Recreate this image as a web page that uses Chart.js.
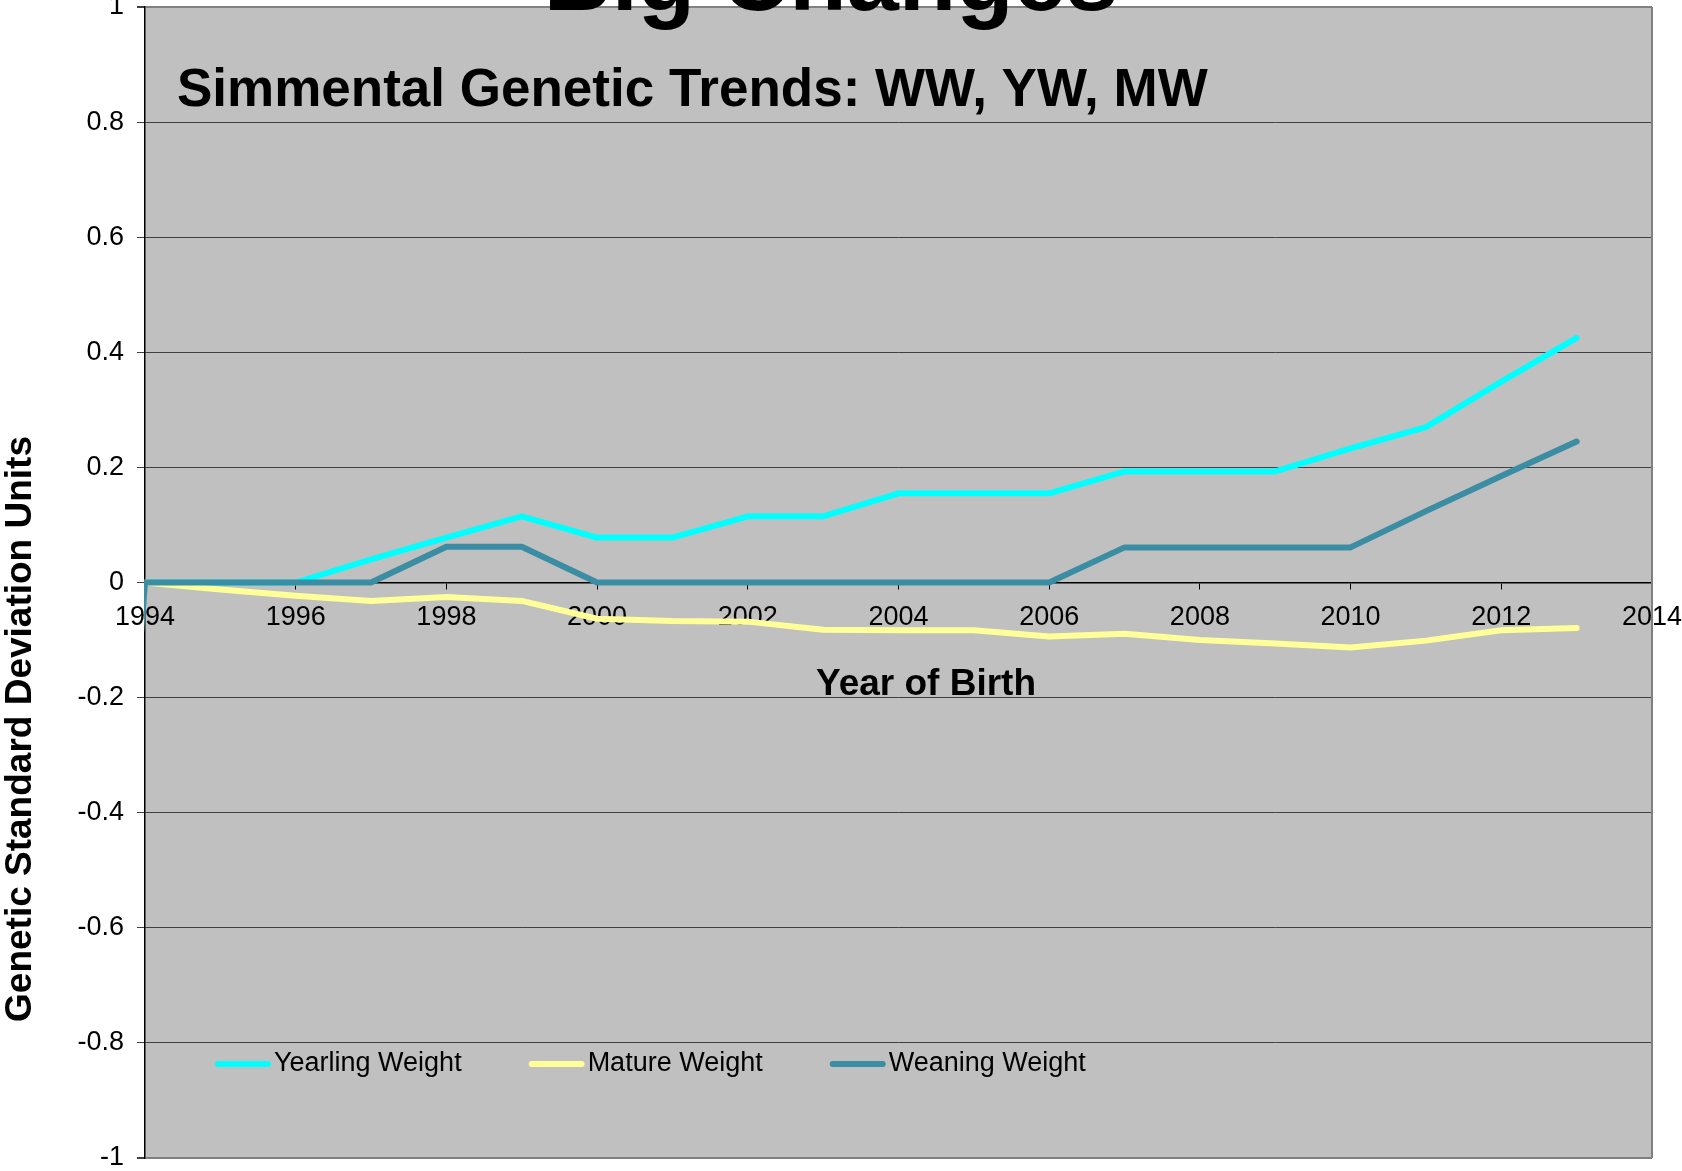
<!DOCTYPE html>
<html>
<head>
<meta charset="utf-8">
<title>Simmental Genetic Trends</title>
<script src="https://cdn.jsdelivr.net/npm/chart.js@4.4.1/dist/chart.umd.min.js"></script>
<style>
  html, body { margin: 0; padding: 0; background: #ffffff; }
  #wrap { width: 1682px; height: 1171px; }
</style>
</head>
<body>
<div id="wrap"><canvas id="trendChart" width="1682" height="1171"></canvas></div>
<script>
// year of birth
const years = [1994, 1995, 1996, 1997, 1998, 1999, 2000, 2001, 2002, 2003,
               2004, 2005, 2006, 2007, 2008, 2009, 2010, 2011, 2012, 2013];

// genetic SD units
const yearlingWeight = [0, 0, 0, 0.04, 0.078, 0.115, 0.078, 0.078, 0.115, 0.115,
                        0.155, 0.155, 0.155, 0.193, 0.193, 0.193, 0.233, 0.27, 0.349, 0.425];
const matureWeight = [0, -0.012, -0.023, -0.032, -0.025, -0.032, -0.063, -0.067, -0.068, -0.082,
                      -0.083, -0.083, -0.094, -0.089, -0.1, -0.106, -0.113, -0.101, -0.083, -0.079];
const weaningWeight = [0, 0, 0, 0, 0.062, 0.062, 0, 0, 0, 0,
                       0, 0, 0, 0.061, 0.061, 0.061, 0.061, 0.124, 0.185, 0.245];
// the weaning line comes in from off the left edge
const weaningLeadYear = 1993;
const weaningLeadValue = -1.65;

const xTicks = [1994, 1996, 1998, 2000, 2002, 2004, 2006, 2008, 2010, 2012, 2014];
const yTicks = [1, 0.8, 0.6, 0.4, 0.2, 0, -0.2, -0.4, -0.6, -0.8, -1];
const yTickLabels = ["1", "0.8", "0.6", "0.4", "0.2", "0", "-0.2", "-0.4", "-0.6", "-0.8", "-1"];

const seriesNames = ["Yearling Weight", "Mature Weight", "Weaning Weight"];

const FONT = '"Liberation Sans", Arial, Helvetica, sans-serif';
Chart.defaults.font.family = FONT;

function toPoints(xs, ys) {
  return xs.map((x, i) => ({ x: x, y: ys[i] }));
}

const weaningPoints = [{ x: weaningLeadYear, y: weaningLeadValue }].concat(toPoints(years, weaningWeight));

// plot background, borders, titles and legend
const decorations = {
  id: "decorations",
  beforeDraw(chart) {
    const a = chart.chartArea;
    const ctx = chart.ctx;
    ctx.save();
    ctx.fillStyle = "#ffffff";
    ctx.fillRect(0, 0, chart.width, chart.height);
    ctx.fillStyle = "#c0c0c0";
    ctx.fillRect(a.left, a.top, a.right - a.left, a.bottom - a.top);
    ctx.restore();
  },
  afterDraw(chart) {
    const a = chart.chartArea;
    const ctx = chart.ctx;
    ctx.save();

    // right border
    ctx.strokeStyle = "#808080";
    ctx.lineWidth = 2;
    ctx.beginPath();
    ctx.moveTo(a.right, a.top);
    ctx.lineTo(a.right, a.bottom);
    ctx.stroke();

    ctx.fillStyle = "#000000";

    // big heading, cut off at the top
    ctx.font = "bold 94px " + FONT;
    ctx.textAlign = "center";
    ctx.textBaseline = "alphabetic";
    ctx.fillText("Big Changes", 831, 10);

    // chart title inside the plot
    ctx.font = "bold 53px " + FONT;
    ctx.textAlign = "left";
    ctx.fillText("Simmental Genetic Trends: WW, YW, MW", 177, 106);

    // x axis title
    ctx.font = "bold 37px " + FONT;
    ctx.textAlign = "center";
    ctx.fillText("Year of Birth", 926, 695);

    // y axis title
    ctx.save();
    ctx.translate(21, 729);
    ctx.rotate(-Math.PI / 2);
    ctx.textBaseline = "middle";
    ctx.fillText("Genetic Standard Deviation Units", 0, 0);
    ctx.restore();

    // legend
    ctx.font = "27px " + FONT;
    ctx.textAlign = "left";
    ctx.textBaseline = "middle";
    let x = 215;
    const y = 1064;
    chart.data.datasets.forEach((ds) => {
      ctx.strokeStyle = ds.borderColor;
      ctx.lineWidth = 6;
      ctx.lineCap = "round";
      ctx.beginPath();
      ctx.moveTo(x + 3, y);
      ctx.lineTo(x + 53, y);
      ctx.stroke();
      ctx.fillStyle = "#000000";
      ctx.fillText(ds.label, x + 59, y);
      x += 59 + ctx.measureText(ds.label).width + 67;
    });

    ctx.restore();
  }
};

const ctx = document.getElementById("trendChart").getContext("2d");
const chart = new Chart(ctx, {
  type: "line",
  data: {
    datasets: [
      {
        label: seriesNames[0],
        data: toPoints(years, yearlingWeight),
        borderColor: "#00ffff",
        order: 2
      },
      {
        label: seriesNames[1],
        data: toPoints(years, matureWeight),
        borderColor: "#ffff99",
        order: 1
      },
      {
        label: seriesNames[2],
        data: weaningPoints,
        borderColor: "#3a8da2",
        order: 0,
        clip: 1
      }
    ]
  },
  options: {
    responsive: false,
    animation: false,
    devicePixelRatio: 1,
    layout: { padding: { left: 0, top: 7, right: 30, bottom: 13 } },
    elements: {
      point: { radius: 0, hoverRadius: 0 },
      line: { borderWidth: 6, tension: 0, borderCapStyle: "round", borderJoinStyle: "round" }
    },
    plugins: {
      legend: { display: false },
      tooltip: { enabled: false },
      title: { display: false }
    },
    scales: {
      x: {
        type: "linear",
        position: { y: 0 },
        min: 1994,
        max: 2014,
        afterBuildTicks: (scale) => {
          scale.ticks = xTicks.map((v) => ({ value: v }));
        },
        afterFit: (scale) => {
          scale.paddingLeft = 0;
          scale.paddingRight = 0;
        },
        ticks: {
          color: "#000000",
          font: { size: 27 },
          padding: 13,
          maxRotation: 0,
          autoSkip: false,
          callback: (value) => String(value)
        },
        grid: {
          drawOnChartArea: false,
          drawTicks: true,
          tickLength: 6,
          tickColor: "#000000"
        },
        border: { color: "#000000", width: 1.5 }
      },
      y: {
        min: -1,
        max: 1,
        afterBuildTicks: (scale) => {
          scale.ticks = yTicks.map((v) => ({ value: v }));
        },
        afterFit: (scale) => {
          scale.width = 145;
          scale.paddingTop = 0;
          scale.paddingBottom = 0;
        },
        ticks: {
          color: "#000000",
          font: { size: 27 },
          padding: 13,
          callback: (value, index) => yTickLabels[index]
        },
        grid: {
          color: (c) => (Math.abs(c.tick.value) === 1 ? "#808080" : (c.tick.value === 0 ? "rgba(0,0,0,0)" : "#404040")),
          lineWidth: (c) => (Math.abs(c.tick.value) === 1 ? 2 : 1),
          tickLength: 8,
          tickColor: "#404040"
        },
        border: { color: "#000000", width: 1.5 }
      }
    }
  },
  plugins: [decorations]
});
</script>
</body>
</html>
